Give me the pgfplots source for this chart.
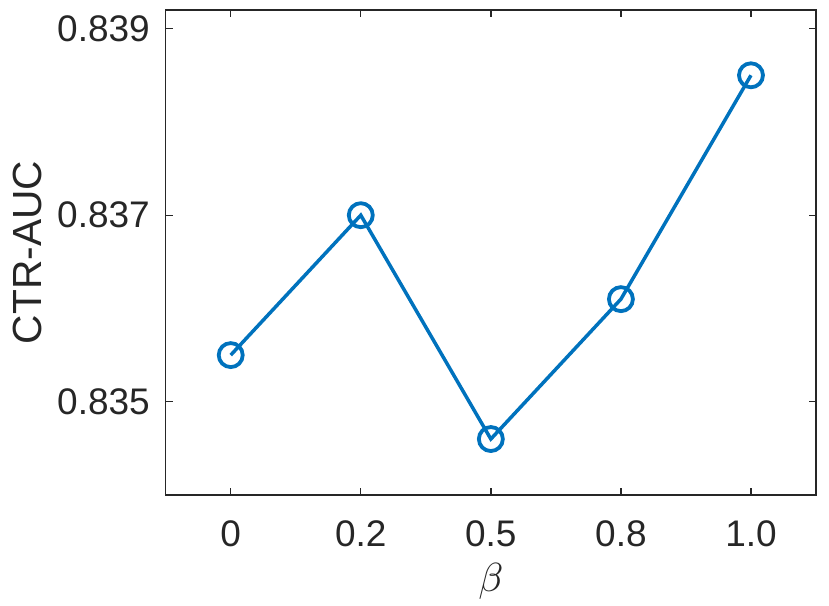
\documentclass[border=0pt]{standalone}
\usepackage{graphicx}
\usepackage{pgfplots}
\pgfplotsset{compat=1.18}
\usepackage{fontspec}
\setmainfont{Liberation Sans}
\definecolor{mblue}{rgb}{0,0.447,0.741}
\definecolor{axgray}{rgb}{0.15,0.15,0.15}
\begin{document}
\begin{tikzpicture}
\begin{axis}[
  scale only axis,
  width=650.3bp, height=485bp,
  xmin=-0.5, xmax=4.5,
  ymin=0.834, ymax=0.8392,
  xtick={0,1,2,3,4},
  xticklabels={0,0.2,0.5,0.8,1.0},
  ytick={0.835,0.837,0.839},
  yticklabels={0.835,0.837,0.839},
  scaled y ticks=false,
  tick align=inside,
  major tick length=7bp,
  axis line style={axgray, line width=1.3bp},
  every tick/.style={axgray, line width=1.3bp},
  every tick label/.append style={inner sep=0pt, font=\fontsize{37bp}{44bp}\selectfont, text=axgray},
  yticklabel style={anchor=east, xshift=-15.7bp},
  xticklabel style={anchor=north, yshift=-25bp},
  every axis y label/.style={at={(rel axis cs:0,0.5)}, xshift=-123.7bp, rotate=90, anchor=south, inner sep=0pt, font=\fontsize{40.7bp}{48bp}\selectfont, text=axgray},
  every axis x label/.style={at={(rel axis cs:0.5,0)}, anchor=north, yshift=-68bp, inner sep=0pt, font=\normalsize, text=axgray},
  ylabel={CTR-AUC},
  xlabel={\scalebox{4.07}{$\beta$}},
]
\addplot[mblue, line width=3.5bp, mark=o, mark size=12bp, mark options={line width=3.8bp}]
  coordinates {(0,0.8355) (1,0.8370) (2,0.8346) (3,0.8361) (4,0.8385)};
\end{axis}
\path (current axis.south west) ++(-165.7bp,-110bp);
\path (current axis.north east) ++(13bp,10bp);
\end{tikzpicture}
\end{document}
